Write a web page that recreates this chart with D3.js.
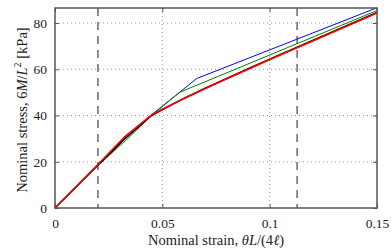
<!DOCTYPE html>
<html>
<head>
<meta charset="utf-8">
<script src="https://cdn.jsdelivr.net/npm/d3@7"></script>
<style>
  body { margin: 0; background: #fff; }
  svg { display: block; font-family: "Liberation Serif", "DejaVu Serif", serif; }
</style>
</head>
<body>
<div id="chart"></div>
<script>
// data: [strain, stress kPa]
var blueSeries = [[0, 0], [0.02, 18.6], [0.033, 30.2], [0.045, 40.3], [0.058, 50], [0.066, 56], [0.15, 86.6]];
var greenSeries = [[0, 0], [0.02, 18.3], [0.035, 31], [0.045, 40], [0.058, 50], [0.15, 85.4]];
var blackSeries = [[0, 0], [0.02, 18.6], [0.032, 29.6], [0.045, 40], [0.05, 42.6], [0.06, 47.4], [0.07, 51.8],
                   [0.08, 56], [0.09, 60.2], [0.1, 64.3], [0.12, 72.4], [0.15, 84.6]];
var redSeries = [[0, 0], [0.02, 18.8], [0.032, 30.4], [0.045, 40.3], [0.05, 42.6], [0.06, 47.3], [0.07, 51.7],
                 [0.08, 55.9], [0.09, 60], [0.1, 64.2], [0.12, 72.2], [0.15, 84.3]];
var markers = [0.02, 0.1128];
var xTicks = [0, 0.05, 0.1, 0.15];
var yTicks = [0, 20, 40, 60, 80];

var margin = {top: 8, right: 15, bottom: 42, left: 55},
    width = 392,
    height = 250,
    w = width - margin.left - margin.right,
    h = height - margin.top - margin.bottom;

var x = d3.scaleLinear().domain([0, 0.15]).range([0, w]);
var y = d3.scaleLinear().domain([0, 86.5]).range([h, 0]);

var svg = d3.select("#chart").append("svg")
    .attr("width", width)
    .attr("height", height);

var g = svg.append("g")
    .attr("transform", "translate(" + margin.left + "," + margin.top + ")");

// dotted grid
g.append("g").selectAll("line").data(xTicks.slice(1, -1)).enter().append("line")
    .attr("x1", x).attr("x2", x).attr("y1", 0).attr("y2", h)
    .attr("stroke", "#555").attr("stroke-width", 0.6).attr("stroke-dasharray", "1,3");
g.append("g").selectAll("line").data(yTicks.slice(1)).enter().append("line")
    .attr("y1", y).attr("y2", y).attr("x1", 0).attr("x2", w)
    .attr("stroke", "#555").attr("stroke-width", 0.6).attr("stroke-dasharray", "1,3");

// vertical dashed markers
g.append("g").selectAll("line").data(markers).enter().append("line")
    .attr("x1", x).attr("x2", x).attr("y1", 0).attr("y2", h)
    .attr("stroke", "#808080").attr("stroke-width", 1.8).attr("stroke-dasharray", "8,6");

var line = d3.line().x(function(d) { return x(d[0]); }).y(function(d) { return y(d[1]); });

var series = [
    {data: blueSeries, color: "#0000ff", width: 1},
    {data: greenSeries, color: "#008000", width: 1},
    {data: blackSeries, color: "#000000", width: 1.6},
    {data: redSeries, color: "#ff0000", width: 1.6}
];
series.forEach(function(s) {
    g.append("path")
        .datum(s.data)
        .attr("fill", "none")
        .attr("stroke", s.color)
        .attr("stroke-width", s.width)
        .attr("stroke-linejoin", "round")
        .attr("d", line);
});

// axes, ticks pointing in
var xAxis = d3.axisBottom(x).tickValues(xTicks).tickSizeInner(-4).tickSizeOuter(0).tickPadding(10)
    .tickFormat(function(d) { return d === 0 ? "0" : String(+d.toFixed(2)); });
var yAxis = d3.axisLeft(y).tickValues(yTicks).tickSizeInner(-4).tickSizeOuter(0).tickPadding(8);

var gx = g.append("g").attr("transform", "translate(0," + h + ")").call(xAxis);
var gy = g.append("g").call(yAxis);
g.append("g").call(d3.axisTop(x).tickValues(xTicks).tickSizeInner(-4).tickSizeOuter(0).tickFormat(""));
g.append("g").attr("transform", "translate(" + w + ",0)")
    .call(d3.axisRight(y).tickValues(yTicks).tickSizeInner(-4).tickSizeOuter(0).tickFormat(""));

g.selectAll(".domain").remove();
g.selectAll(".tick line").attr("stroke", "#555").attr("stroke-width", 1);
g.selectAll(".tick text").attr("font-size", 13.5).attr("fill", "#222")
    .attr("font-family", "Liberation Serif, DejaVu Serif, serif");

// frame
g.append("rect")
    .attr("width", w).attr("height", h)
    .attr("fill", "none").attr("stroke", "#555").attr("stroke-width", 1.5);

// axis labels
var xl = svg.append("text")
    .attr("x", margin.left + w / 2).attr("y", 245)
    .attr("text-anchor", "middle").attr("font-size", 14.5).attr("fill", "#222");
xl.append("tspan").text("Nominal strain, ");
xl.append("tspan").attr("font-style", "italic").text("θL");
xl.append("tspan").text("/(4");
xl.append("tspan").attr("font-style", "italic").text("ℓ");
xl.append("tspan").text(")");

var yl = svg.append("text")
    .attr("transform", "translate(27," + (margin.top + h / 2 + 2) + ") rotate(-90)")
    .attr("text-anchor", "middle").attr("font-size", 14.5).attr("fill", "#222");
yl.append("tspan").text("Nominal stress, 6");
yl.append("tspan").attr("font-style", "italic").text("M");
yl.append("tspan").text("/");
yl.append("tspan").attr("font-style", "italic").text("L");
yl.append("tspan").attr("font-size", 10).attr("dy", -6).text("2");
yl.append("tspan").attr("dy", 6).text(" [kPa]");
</script>
</body>
</html>
